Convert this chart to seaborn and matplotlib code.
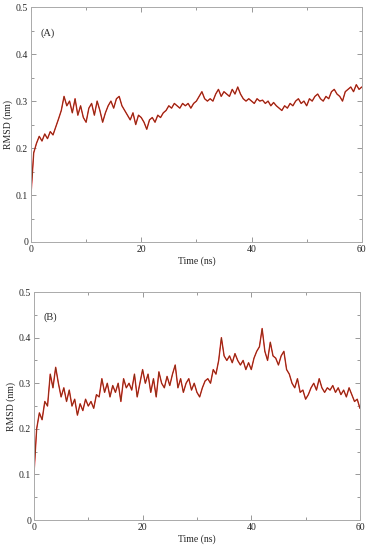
import numpy as np
import pandas as pd
import matplotlib
matplotlib.use("Agg")
import matplotlib.pyplot as plt
import seaborn as sns
from matplotlib.ticker import MultipleLocator

rmsd_a = [0.10, 0.19, 0.21, 0.225, 0.215, 0.23, 0.22, 0.235, 0.228, 0.245,
          0.262, 0.28, 0.31, 0.29, 0.30, 0.275, 0.305, 0.27, 0.29, 0.265,
          0.255, 0.285, 0.295, 0.27, 0.30, 0.28, 0.255, 0.275, 0.29, 0.30,
          0.285, 0.305, 0.31, 0.29, 0.28, 0.27, 0.26, 0.275, 0.25, 0.27,
          0.265, 0.255, 0.24, 0.26, 0.265, 0.255, 0.27, 0.265, 0.275, 0.28,
          0.29, 0.285, 0.295, 0.29, 0.285, 0.295, 0.29, 0.295, 0.285, 0.295,
          0.30, 0.31, 0.32, 0.305, 0.30, 0.305, 0.30, 0.315, 0.325, 0.31,
          0.32, 0.315, 0.31, 0.325, 0.315, 0.33, 0.315, 0.305, 0.30, 0.305,
          0.30, 0.295, 0.305, 0.30, 0.302, 0.295, 0.30, 0.29, 0.297, 0.29,
          0.285, 0.28, 0.29, 0.285, 0.295, 0.29, 0.30, 0.305, 0.295, 0.30,
          0.29, 0.305, 0.30, 0.31, 0.315, 0.305, 0.30, 0.31, 0.305, 0.32,
          0.325, 0.315, 0.31, 0.30, 0.32, 0.325, 0.33, 0.32, 0.335, 0.325,
          0.33]

rmsd_b = [0.10, 0.20, 0.235, 0.22, 0.26, 0.25, 0.32, 0.29, 0.335, 0.30,
          0.27, 0.29, 0.26, 0.285, 0.25, 0.265, 0.23, 0.255, 0.24, 0.265,
          0.25, 0.26, 0.245, 0.275, 0.27, 0.31, 0.28, 0.30, 0.27, 0.295,
          0.28, 0.30, 0.26, 0.31, 0.29, 0.30, 0.285, 0.32, 0.27, 0.30,
          0.33, 0.30, 0.32, 0.28, 0.31, 0.27, 0.325, 0.30, 0.29, 0.315,
          0.295, 0.32, 0.34, 0.29, 0.31, 0.28, 0.30, 0.31, 0.285, 0.30,
          0.28, 0.27, 0.29, 0.305, 0.31, 0.30, 0.33, 0.32, 0.35, 0.40,
          0.36, 0.35, 0.36, 0.345, 0.365, 0.35, 0.34, 0.35, 0.33, 0.345,
          0.33, 0.355, 0.37, 0.38, 0.42, 0.37, 0.35, 0.39, 0.36, 0.355,
          0.34, 0.36, 0.37, 0.33, 0.32, 0.30, 0.29, 0.31, 0.28, 0.285,
          0.265, 0.275, 0.29, 0.30, 0.285, 0.31, 0.29, 0.28, 0.29, 0.285,
          0.295, 0.28, 0.29, 0.275, 0.285, 0.27, 0.29, 0.275, 0.26, 0.265,
          0.245]

panel_labels = ["(A)", "(B)"]
x_ticks = [0, 20, 40, 60]
y_ticks = [0, 0.1, 0.2, 0.3, 0.4, 0.5]

sns.set_style("ticks")
plt.rcParams['font.family'] = ['Liberation Serif', 'DejaVu Serif']

fig = plt.figure(figsize=(3.73, 5.5), dpi=100)
ax_a = fig.add_axes([0.083, 0.56, 0.887, 0.427])
ax_b = fig.add_axes([0.091, 0.0545, 0.874, 0.4145])

for ax, vals, lab in [(ax_a, rmsd_a, panel_labels[0]), (ax_b, rmsd_b, panel_labels[1])]:
    df = pd.DataFrame({"t": np.linspace(0, 60, len(vals)), "r": vals})
    sns.lineplot(data=df, x="t", y="r", ax=ax, color="#f01820", linewidth=1.0)
    sns.lineplot(data=df, x="t", y="r", ax=ax, color="#5a4214", linewidth=0.45)
    ax.set_xlim(0, 60)
    ax.set_ylim(0, 0.5)
    ax.set_xticks(x_ticks)
    ax.set_xticklabels([str(v) for v in x_ticks])
    ax.set_yticks(y_ticks)
    ax.set_yticklabels(["0" if v == 0 else f"{v:.1f}" for v in y_ticks])
    ax.xaxis.set_minor_locator(MultipleLocator(10))
    ax.yaxis.set_minor_locator(MultipleLocator(0.05))
    ax.tick_params(which="both", direction="in", top=True, right=True,
                   color="#888888", labelsize=7, pad=2)
    ax.tick_params(which="major", length=3.5, width=0.6)
    ax.tick_params(which="minor", length=2, width=0.6)
    for s in ax.spines.values():
        s.set_visible(True)
        s.set_color("#aaaaaa")
        s.set_linewidth(0.7)
    ax.set_xlabel("Time (ns)", fontsize=7, labelpad=2)
    ax.set_ylabel("RMSD (nm)", fontsize=7, labelpad=2)
    ax.text(0.03, 0.89, lab, transform=ax.transAxes, fontsize=7.5, va="center", ha="left")

fig.savefig("out.png", dpi=100)
